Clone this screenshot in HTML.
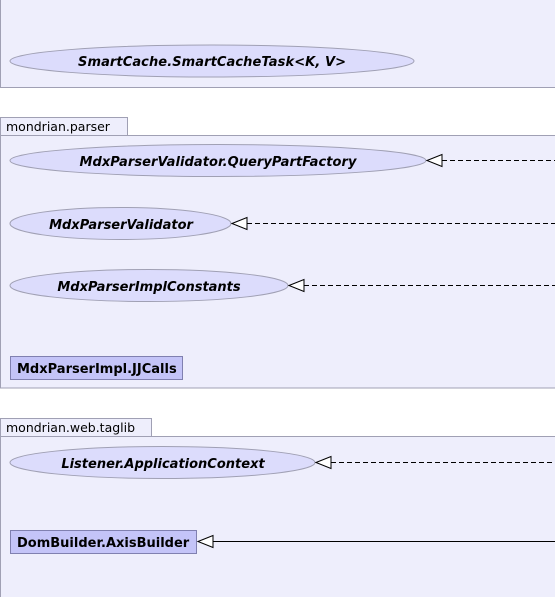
<!DOCTYPE html>
<html><head><meta charset="utf-8"><style>
html,body{margin:0;padding:0;background:#fff;}
svg{display:block;}
text{font-family:"DejaVu Sans","Liberation Sans",sans-serif;font-size:13px;}
.b{font-weight:bold;}
.i{font-weight:bold;font-style:italic;}
.t{font-size:12.5px;fill:#000;}
</style></head><body>
<svg width="555" height="597" viewBox="0 0 555 597" xmlns="http://www.w3.org/2000/svg">
<rect x="0.5" y="-5" width="560" height="92.5" fill="#eeeefc" stroke="#a0a0b4"/>
<ellipse cx="212" cy="61" rx="202" ry="16" fill="#dcdcfc" stroke="#a0a0b4"/>
<text x="212" y="66" text-anchor="middle" class="i" textLength="268">SmartCache.SmartCacheTask&lt;K, V&gt;</text>

<rect x="0.5" y="117.5" width="127" height="18" fill="#eeeefc" stroke="#a0a0b4"/>
<text x="6" y="131" class="t">mondrian.parser</text>
<rect x="0.5" y="135.5" width="560" height="252.5" fill="#eeeefc" stroke="#a0a0b4"/>
<ellipse cx="218" cy="160.5" rx="208" ry="16" fill="#dcdcfc" stroke="#a0a0b4"/>
<text x="218" y="166" text-anchor="middle" class="i" textLength="277">MdxParserValidator.QueryPartFactory</text>
<ellipse cx="120.5" cy="223.5" rx="110.5" ry="16" fill="#dcdcfc" stroke="#a0a0b4"/>
<text x="121" y="229" text-anchor="middle" class="i">MdxParserValidator</text>
<ellipse cx="149" cy="285.5" rx="139" ry="16" fill="#dcdcfc" stroke="#a0a0b4"/>
<text x="149" y="291" text-anchor="middle" class="i">MdxParserImplConstants</text>
<rect x="10.5" y="356.5" width="172" height="23" fill="#c4c4f8" stroke="#8080b0"/>
<text x="17" y="373" class="b">MdxParserImpl.JJCalls</text>
<g stroke="#000" fill="none">
<line x1="442" y1="160.5" x2="555" y2="160.5" stroke-dasharray="5,3"/>
<line x1="247" y1="223.5" x2="555" y2="223.5" stroke-dasharray="5,3"/>
<line x1="304" y1="285.5" x2="555" y2="285.5" stroke-dasharray="5,3"/>
</g>
<g stroke="#000" fill="#fff">
<polygon points="427,160.5 442,154.5 442,166.5"/>
<polygon points="232,223.5 247,217.5 247,229.5"/>
<polygon points="289,285.5 304,279.5 304,291.5"/>
</g>

<rect x="0.5" y="418.5" width="151" height="18" fill="#eeeefc" stroke="#a0a0b4"/>
<text x="6" y="432" class="t">mondrian.web.taglib</text>
<rect x="0.5" y="436.5" width="560" height="170" fill="#eeeefc" stroke="#a0a0b4"/>
<ellipse cx="162.5" cy="462.5" rx="152.5" ry="16" fill="#dcdcfc" stroke="#a0a0b4"/>
<text x="163" y="468" text-anchor="middle" class="i">Listener.ApplicationContext</text>
<rect x="10.5" y="530.5" width="186" height="23" fill="#c4c4f8" stroke="#8080b0"/>
<text x="17" y="547" class="b">DomBuilder.AxisBuilder</text>
<g stroke="#000" fill="none">
<line x1="331" y1="462.5" x2="555" y2="462.5" stroke-dasharray="5,3"/>
<line x1="213" y1="541.5" x2="555" y2="541.5"/>
</g>
<g stroke="#000" fill="#fff">
<polygon points="316,462.5 331,456.5 331,468.5"/>
<polygon points="198,541.5 213,535.5 213,547.5"/>
</g>
</svg>
</body></html>
